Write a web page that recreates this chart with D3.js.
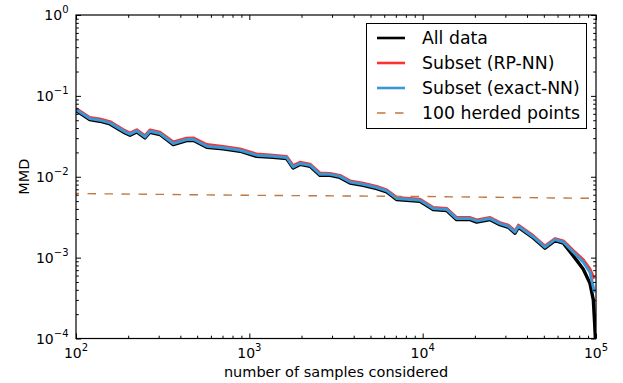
<!DOCTYPE html>
<html>
<head>
<meta charset="utf-8">
<script src="https://cdn.jsdelivr.net/npm/d3@7"></script>
<style>
  body { margin: 0; background: #fff; }
  text { font-family: "DejaVu Sans", sans-serif; fill: #000; }
</style>
</head>
<body>
<div id="main"></div>
<script>
// number of samples considered (shared by the three MMD curves)
var samples = [100, 120, 137, 157, 192, 205, 224, 250, 267, 305, 364, 435, 475, 568, 705, 884,
  1100, 1370, 1640, 1790, 1960, 2240, 2560, 2920, 3330, 3810, 4530, 5430, 6200, 7090, 8450, 9650,
  11500, 13800, 15700, 18800, 20500, 24500, 27900, 31200, 34100, 35700, 43500, 50800, 58000,
  64800, 74000, 84500, 92300, 96500, 98000];

var allData = [0.066, 0.0510, 0.0486, 0.0450, 0.0348, 0.0326, 0.0358, 0.0302, 0.0355, 0.0333,
  0.0250, 0.0280, 0.0282, 0.0232, 0.0221, 0.0207, 0.0179, 0.0174, 0.0168, 0.0128, 0.0142, 0.0135,
  0.0104, 0.0104, 0.0098, 0.00836, 0.00784, 0.00714, 0.00648, 0.00521, 0.00506, 0.00497, 0.00392,
  0.00381, 0.00295, 0.00295, 0.00275, 0.00295, 0.00255, 0.00237, 0.00201, 0.00237, 0.00175,
  0.00131, 0.00162, 0.00151, 0.00105, 0.00072, 0.00048, 0.00030, 0.000167];
// "all data" keeps falling to zero as n -> 100000
var allTailX = [99000, 99900];
var allTailY = [0.000109, 0.00005];

var rpNN = [0.070, 0.0542, 0.0518, 0.0480, 0.0371, 0.0347, 0.0381, 0.0322, 0.0378, 0.0355,
  0.0270, 0.0300, 0.0302, 0.0250, 0.0236, 0.0220, 0.0191, 0.0185, 0.0178, 0.0137, 0.0151, 0.0143,
  0.0111, 0.0110, 0.0104, 0.00888, 0.00832, 0.00758, 0.00688, 0.00553, 0.00538, 0.00527, 0.00416,
  0.00405, 0.00313, 0.00313, 0.00293, 0.00313, 0.00271, 0.00252, 0.00214, 0.00252, 0.00186,
  0.00139, 0.00172, 0.00161, 0.00122, 0.00094, 0.00072, 0.00058, 0.00055];

var exactNN = [0.068, 0.0526, 0.0501, 0.0464, 0.0359, 0.0336, 0.0369, 0.0311, 0.0366, 0.0343,
  0.0258, 0.0289, 0.0291, 0.0239, 0.0228, 0.0213, 0.0185, 0.0179, 0.0173, 0.0132, 0.0146, 0.0139,
  0.0107, 0.0107, 0.0101, 0.00862, 0.00808, 0.00736, 0.00668, 0.00537, 0.00522, 0.00512, 0.00404,
  0.00393, 0.00304, 0.00304, 0.00284, 0.00304, 0.00263, 0.00244, 0.00207, 0.00244, 0.00180,
  0.00135, 0.00167, 0.00156, 0.00117, 0.00088, 0.00066, 0.00043, 0.00037];

var herdedX = [100, 1000, 10000, 100000];
var herdedY = [0.0062, 0.0059, 0.0057, 0.0054];

var legendLabels = ["All data", "Subset (RP-NN)", "Subset (exact-NN)", "100 herded points"];
var xTickExp = [2, 3, 4, 5];
var yTickExp = [-4, -3, -2, -1, 0];

var W = 623, H = 383;
var pLeft = 76, pRight = 596, pTop = 15, pBottom = 338.5;

var svg = d3.select("#main").append("svg")
    .attr("width", W)
    .attr("height", H);

var x = d3.scaleLog().domain([1e2, 1e5]).range([pLeft, pRight]);
var y = d3.scaleLog().domain([1e-4, 1]).range([pBottom, pTop]);

svg.append("clipPath").attr("id", "clip")
  .append("rect")
    .attr("x", pLeft).attr("y", pTop)
    .attr("width", pRight - pLeft).attr("height", pBottom - pTop);

var plot = svg.append("g").attr("clip-path", "url(#clip)");

function zipXY(xs, ys) {
  return xs.map(function(d, i) { return [d, ys[i]]; });
}

var line = d3.line()
    .x(function(d) { return x(d[0]); })
    .y(function(d) { return y(d[1]); });

var series = [
  { pts: zipXY(samples.concat(allTailX), allData.concat(allTailY)), color: "#000000", w: 3.4 },
  { pts: zipXY(samples, rpNN), color: "#ff3030", w: 3 },
  { pts: zipXY(samples, exactNN), color: "#3a97d4", w: 3 }
];

series.forEach(function(s) {
  plot.append("path")
      .attr("d", line(s.pts))
      .attr("fill", "none")
      .attr("stroke", s.color)
      .attr("stroke-width", s.w)
      .attr("stroke-linejoin", "round");
});

plot.append("path")
    .attr("d", line(zipXY(herdedX, herdedY)))
    .attr("fill", "none")
    .attr("stroke", "#c1773f")
    .attr("stroke-width", 1.4)
    .attr("stroke-dasharray", "8.5,8.5")
    .attr("stroke-dashoffset", 5.5);

//////////////////////////////////////////////////////////////////////////
// ticks, inward on all four sides
var xMajor = xTickExp.map(function(e) { return Math.pow(10, e); });
var yMajor = yTickExp.map(function(e) { return Math.pow(10, e); });
var xMinor = [], yMinor = [];
for (var e = 2; e < 5; ++e)
  for (var k = 2; k < 10; ++k) xMinor.push(k * Math.pow(10, e));
for (var e2 = -4; e2 < 0; ++e2)
  for (var k2 = 2; k2 < 10; ++k2) yMinor.push(k2 * Math.pow(10, e2));

function tickLayer(axis, tx, ty) {
  var g = svg.append("g").attr("transform", "translate(" + tx + "," + ty + ")").call(axis);
  g.select(".domain").remove();
  g.selectAll("line").attr("stroke", "#000").attr("stroke-width", 1);
  g.selectAll("text").remove();
  return g;
}

[[d3.axisBottom, 0, pBottom, x], [d3.axisTop, 0, pTop, x]].forEach(function(a) {
  tickLayer(a[0](a[3]).tickValues(xMajor).tickSize(-5).tickSizeOuter(0).tickFormat(""), a[1], a[2]);
  tickLayer(a[0](a[3]).tickValues(xMinor).tickSize(-2.8).tickSizeOuter(0).tickFormat(""), a[1], a[2]);
});
[[d3.axisLeft, pLeft, 0, y], [d3.axisRight, pRight, 0, y]].forEach(function(a) {
  tickLayer(a[0](a[3]).tickValues(yMajor).tickSize(-5).tickSizeOuter(0).tickFormat(""), a[1], a[2]);
  tickLayer(a[0](a[3]).tickValues(yMinor).tickSize(-2.8).tickSizeOuter(0).tickFormat(""), a[1], a[2]);
});

svg.append("rect")
    .attr("x", pLeft).attr("y", pTop)
    .attr("width", pRight - pLeft).attr("height", pBottom - pTop)
    .attr("fill", "none")
    .attr("stroke", "#000")
    .attr("stroke-width", 1.2);

// tick labels 10^n
function powerLabel(sel, exp) {
  sel.append("tspan").attr("font-size", 14).text("10");
  sel.append("tspan").attr("font-size", 10).attr("dy", -7)
      .text(String(exp).replace("-", "\u2212"));
}

xTickExp.forEach(function(e) {
  var t = svg.append("text")
      .attr("x", x(Math.pow(10, e)))
      .attr("y", 357.5)
      .attr("text-anchor", "middle");
  powerLabel(t, e);
});

yTickExp.forEach(function(e) {
  var t = svg.append("text")
      .attr("x", 68.5)
      .attr("y", y(Math.pow(10, e)) + 5)
      .attr("text-anchor", "end");
  powerLabel(t, e);
});

svg.append("text")
    .attr("x", (pLeft + pRight) / 2)
    .attr("y", 376.5)
    .attr("text-anchor", "middle")
    .attr("font-size", 14.5)
    .text("number of samples considered");

svg.append("text")
    .attr("transform", "translate(28.5," + 176.7 + ") rotate(-90)")
    .attr("text-anchor", "middle")
    .attr("font-size", 14.5)
    .text("MMD");

//////////////////////////////////////////////////////////////////////////
// legend
var legend = svg.append("g");
legend.append("rect")
    .attr("x", 366.5).attr("y", 23.5)
    .attr("width", 220).attr("height", 105)
    .attr("fill", "#fff")
    .attr("stroke", "#000")
    .attr("stroke-width", 1);

var legendStyles = [
  { color: "#000000", dash: null, w: 2.6 },
  { color: "#ff3030", dash: null, w: 2.6 },
  { color: "#3a97d4", dash: null, w: 2.6 },
  { color: "#c1773f", dash: "8.5,9.5", w: 1.4 }
];

legendLabels.forEach(function(label, i) {
  var cy = 38 + i * 25;
  legend.append("line")
      .attr("x1", 377).attr("x2", 405)
      .attr("y1", cy).attr("y2", cy)
      .attr("stroke", legendStyles[i].color)
      .attr("stroke-width", legendStyles[i].w)
      .attr("stroke-dasharray", legendStyles[i].dash);
  legend.append("text")
      .attr("x", 422)
      .attr("y", cy + 6)
      .attr("font-size", 17.3)
      .text(label);
});
</script>
</body>
</html>
